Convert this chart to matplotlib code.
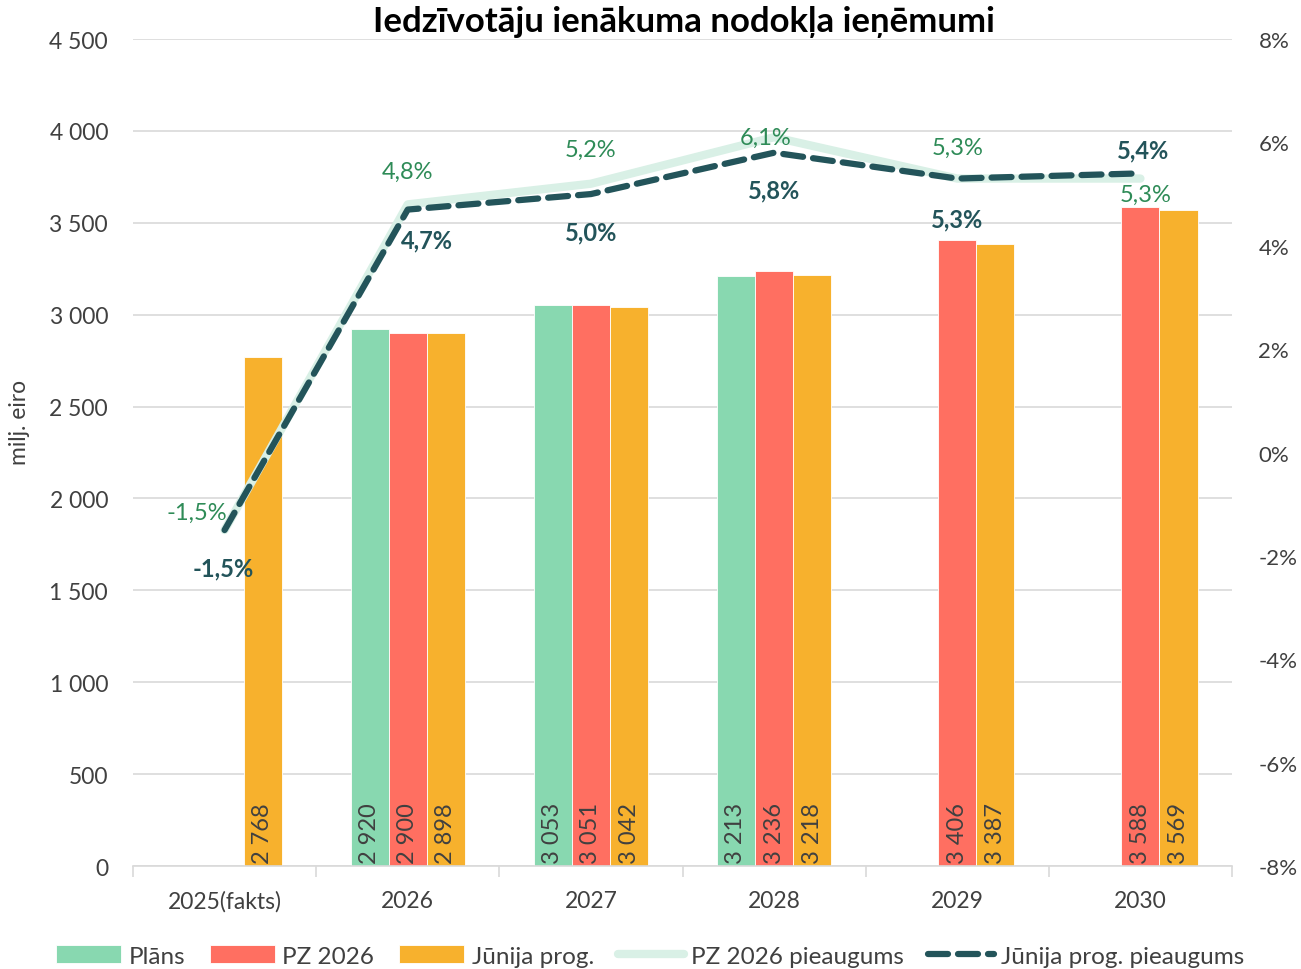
import numpy as np
import matplotlib.pyplot as plt
from matplotlib.ticker import FuncFormatter, FixedLocator

plt.rcParams['font.family'] = ['Lato', 'DejaVu Sans']

years = ['2025(fakts)', '2026', '2027', '2028', '2029', '2030']
plans = [np.nan, 2920, 3053, 3213, np.nan, np.nan]
pz2026 = [np.nan, 2900, 3051, 3236, 3406, 3588]
junija = [2768, 2898, 3042, 3218, 3387, 3569]
pz_growth = [-1.5, 4.8, 5.2, 6.1, 5.3, 5.3]
jun_growth = [-1.5, 4.7, 5.0, 5.8, 5.3, 5.4]

# label offsets in pixels for the growth labels
pz_offsets = [(-28, 18), (0, 33), (0, 34), (-8, 0), (0, 31), (5, -16)]
jun_offsets = [(-1, -38), (19, -30), (0, -38), (0, -37), (0, -40), (3, 23)]

c_plan = '#88D8B0'
c_pz = '#FF6F61'
c_jun = '#F7B12D'
c_pz_line = '#D9F0E6'
c_jun_line = '#23545A'
c_green_txt = '#2E8B57'
c_txt = '#404040'

fig = plt.figure(figsize=(13.01, 9.70), dpi=100)
ax = fig.add_axes([133/1301, 1 - 867/970, 1099/1301, 827/970])
ax2 = ax.twinx()

x = np.arange(len(years))
w = 0.208
series = [(plans, c_plan, 'Plāns', -w), (pz2026, c_pz, 'PZ 2026', 0), (junija, c_jun, 'Jūnija prog.', w)]
handles = []
for vals, col, lab, off in series:
    b = ax.bar(x + off, vals, w, color=col, edgecolor='white', linewidth=0.6, label=lab, zorder=2)
    handles.append(b)
    for xi, v in zip(x, vals):
        if np.isnan(v):
            continue
        s = f'{int(v):,}'.replace(',', ' ')
        ax.text(xi + off, 14, s, rotation=90, ha='center', va='bottom',
                fontsize=17, color=c_txt, zorder=3)

ax.set_ylim(0, 4500)
ax.set_xlim(-0.5, 5.5)
ax.yaxis.set_major_locator(FixedLocator(np.arange(0, 4501, 500)))
ax.yaxis.set_major_formatter(FuncFormatter(lambda v, p: f'{int(v):,}'.replace(',', ' ')))
ax.grid(axis='y', color='#D9D9D9', linewidth=1.2, zorder=0)
ax.set_axisbelow(True)
ax.set_xticks(x)
ax.set_xticklabels(years)
ax.set_xticks(np.arange(-0.5, 5.6, 1), minor=True)
ax.tick_params(axis='x', which='major', length=0, pad=17, labelsize=16.5, colors=c_txt)
ax.tick_params(axis='x', which='minor', length=8, color='#D9D9D9', width=1.2)
ax.tick_params(axis='y', length=0, labelsize=16.5, colors=c_txt, pad=18)
for sp in ['top', 'left', 'right']:
    ax.spines[sp].set_visible(False)
    ax2.spines[sp].set_visible(False)
ax.spines['bottom'].set_color('#D9D9D9')
ax.spines['bottom'].set_linewidth(1.2)
ax2.spines['bottom'].set_visible(False)

ax2.set_ylim(-8, 8)
ax2.yaxis.set_major_locator(FixedLocator(np.arange(-8, 9, 2)))
ax2.yaxis.set_major_formatter(FuncFormatter(lambda v, p: f'{int(v)}%'))
ax2.tick_params(axis='y', length=0, labelsize=16, colors=c_txt, pad=19)

l1, = ax2.plot(x, pz_growth, color=c_pz_line, linewidth=6, solid_capstyle='round',
               label='PZ 2026 pieaugums', zorder=3)
l2, = ax2.plot(x, jun_growth, color=c_jun_line, linewidth=4.5, linestyle=(0, (3.2, 1.6)),
               dash_capstyle='round', label='Jūnija prog. pieaugums', zorder=4)

for xi, v, off in zip(x, pz_growth, pz_offsets):
    ax2.annotate(f'{v:.1f}%'.replace('.', ','), (xi, v), xytext=off, textcoords='offset pixels',
                 ha='center', va='center', fontsize=17, color=c_green_txt, zorder=5)
for xi, v, off in zip(x, jun_growth, jun_offsets):
    ax2.annotate(f'{v:.1f}%'.replace('.', ','), (xi, v), xytext=off, textcoords='offset pixels',
                 ha='center', va='center', fontsize=17, color=c_jun_line, fontweight='bold', zorder=5)

ax.set_zorder(ax2.get_zorder() - 1)
ax.patch.set_visible(True)
ax2.patch.set_visible(False)

fig.text(20/1301, 1 - 422/970, 'milj. eiro', rotation=90, ha='center', va='center',
         fontsize=16.5, color=c_txt)
fig.text(684/1301, 1 - 22/970, 'Iedzīvotāju ienākuma nodokļa ieņēmumi', ha='center', va='center',
         fontsize=25, fontweight='bold', color='black')

fig.legend(handles + [l1, l2], [h.get_label() for h in handles] + [l1.get_label(), l2.get_label()],
           loc='center', bbox_to_anchor=(650/1301, 1 - 957/970), ncol=5, frameon=False,
           fontsize=17.5, handlelength=2.7, handleheight=0.7, columnspacing=1.0, handletextpad=0.3,
           labelcolor=c_txt)

fig.savefig('out.png', dpi=100)
